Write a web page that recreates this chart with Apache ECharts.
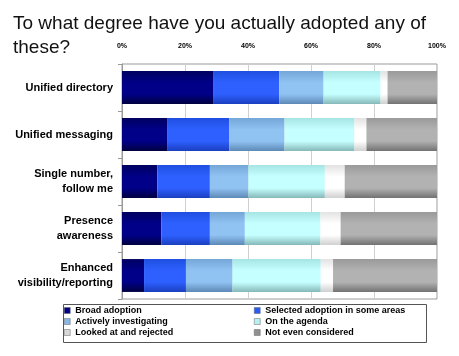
<!DOCTYPE html>
<html><head><meta charset="utf-8">
<script src="https://cdn.jsdelivr.net/npm/echarts@6/dist/echarts.min.js"></script>
<style>html,body{margin:0;padding:0;background:#fff}#c{width:459px;height:356px}</style>
</head><body><div id="c"></div>
<script>
var categories = ["Unified directory","Unified messaging","Single number,\nfollow me","Presence\nawareness","Enhanced\nvisibility/reporting"];
var broadAdoption = [28.9, 14.3, 11.2, 12.5, 7.0];
var selectedAdoption = [21.0, 19.8, 16.7, 15.4, 13.3];
var activelyInvestigating = [14.1, 17.5, 12.2, 11.1, 14.8];
var onTheAgenda = [18.1, 22.2, 24.3, 24.0, 28.0];
var lookedAtRejected = [2.2, 3.8, 6.3, 6.4, 3.9];
var notConsidered = [15.7, 22.4, 29.3, 30.6, 33.0];
var seriesNames = ["Broad adoption","Selected adoption in some areas","Actively investigating","On the agenda","Looked at and rejected","Not even considered"];
var xTicks = [0,20,40,60,80,100];

function grad(top, mid, bot){
  return new echarts.graphic.LinearGradient(0,0,0,1,[
    {offset:0,color:top},{offset:0.35,color:mid},{offset:0.7,color:mid},{offset:1,color:bot}]);
}
var fills = [
  grad('#000060','#000088','#000040'),
  grad('#1f4fe0','#2e60ff','#1a3fc0'),
  grad('#74a6d8','#90c2f2','#5d89b6'),
  grad('#a6e4e4','#c6ffff','#86b8b8'),
  grad('#e2e2e2','#ffffff','#cfcfcf'),
  grad('#9a9a9a','#b2b2b2','#727272')
];
var legendColors = ['#000080','#2a5cf0','#88b8e8','#b8f0f0','#d8d8d8','#909090'];
var data = [broadAdoption, selectedAdoption, activelyInvestigating, onTheAgenda, lookedAtRejected, notConsidered];
var series = data.map(function(d,i){
  return {name: seriesNames[i], type:'bar', stack:'all', data:d, barWidth:'70%',
    itemStyle:{color:fills[i]}, emphasis:{disabled:true}};
});
function legItem(i){ return {name:seriesNames[i], itemStyle:{color:legendColors[i], borderColor:'#666', borderWidth:0.5}}; }
var chart = echarts.init(document.getElementById('c'));
var legendText = {fontFamily:'Arial, Liberation Sans', fontSize:9, fontWeight:'bold', color:'#000'};
chart.setOption({
  animation:false,
  title:{text:'To what degree have you actually adopted any of\nthese?', left:8, top:7,
    textStyle:{fontFamily:'Arial, Liberation Sans', fontSize:19, fontWeight:'normal', color:'#111', lineHeight:24}},
  grid:{left:122, right:22, top:64, bottom:57, show:true, borderColor:'#9a9a9a', borderWidth:1},
  xAxis:{type:'value', position:'top', min:0, max:100, interval:20,
    axisLine:{show:false}, axisTick:{show:false},
    axisLabel:{formatter:function(v){return v+'%';}, fontSize:7, fontWeight:'bold', color:'#000', margin:14, fontFamily:'Arial, Liberation Sans'},
    splitLine:{show:true, lineStyle:{color:'#d0d0d0', width:1}}},
  yAxis:{type:'category', data:categories, inverse:true,
    axisLine:{show:true, lineStyle:{color:'#9a9a9a'}},
    axisTick:{show:true, length:4, lineStyle:{color:'#9a9a9a'}},
    axisLabel:{fontSize:11, fontWeight:'bold', color:'#000', margin:9, lineHeight:15, align:'right', fontFamily:'Arial, Liberation Sans'}},
  legend:[
    {data:[legItem(0),legItem(2),legItem(4)], orient:'vertical', left:62, top:304, itemWidth:6, itemHeight:6, itemGap:2, icon:'rect', textStyle:legendText, padding:[2,2,2,2]},
    {data:[legItem(1),legItem(3),legItem(5)], orient:'vertical', left:252, top:304, itemWidth:6, itemHeight:6, itemGap:2, icon:'rect', textStyle:legendText, padding:[2,2,2,2]}
  ],
  graphic:[{type:'rect', shape:{x:63.5, y:304.5, width:363, height:38}, style:{fill:'none', stroke:'#555', lineWidth:1}, silent:true}],
  series:series
});
</script></body></html>
